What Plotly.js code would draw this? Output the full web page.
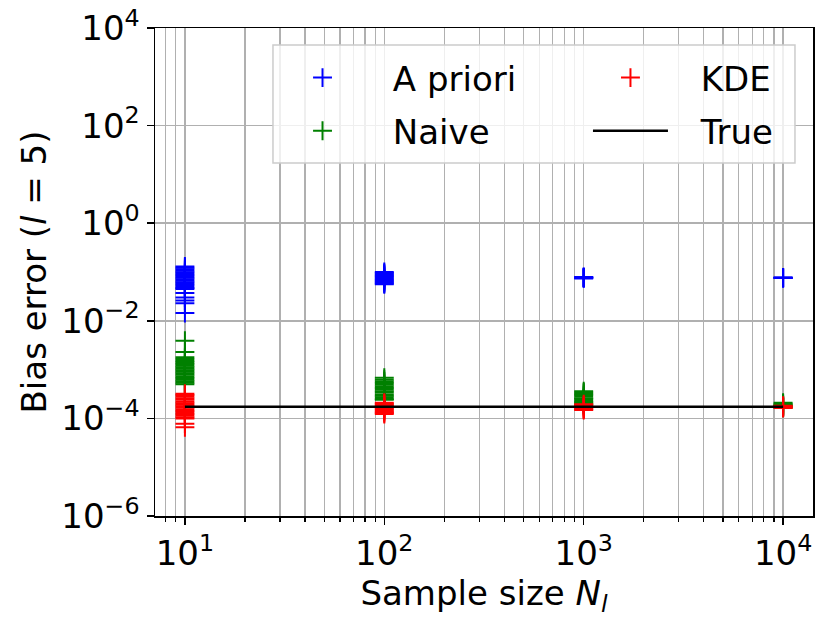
<!DOCTYPE html>
<html>
<head>
<meta charset="utf-8">
<script src="https://cdn.plot.ly/plotly-3.0.1.min.js"></script>
<style>
  html, body { margin: 0; padding: 0; background: #fff; }
  #chart { width: 830px; height: 626px; }
</style>
</head>
<body>
<div id="chart"></div>
<script>
// sample sizes N_l
const sampleSizes = [10, 100, 1000, 10000];

// bias error per sample size (one list of runs per N_l)
const aprioriBias = [
    [0.13, 0.122, 0.114, 0.106, 0.099, 0.093, 0.087, 0.081, 0.076, 0.071, 0.066, 0.062, 0.058, 0.054, 0.050, 0.047, 0.045, 0.037, 0.030, 0.026, 0.023, 0.0145],
    [0.100, 0.095, 0.090, 0.086, 0.082, 0.078, 0.074, 0.070, 0.067, 0.064, 0.061, 0.058, 0.056],
    [0.079, 0.078, 0.077, 0.076, 0.075, 0.074],
    [0.077, 0.0765, 0.076, 0.0755, 0.075]
];
const naiveBias = [
    [0.0039, 0.0023, 0.0018, 0.00165, 0.0015, 0.0014, 0.0013, 0.0012, 0.00112, 0.00104, 0.00097, 0.0009, 0.00084, 0.00078, 0.00072, 0.00067, 0.00062, 0.00058, 0.00054, 0.0005],
    [0.00068, 0.00062, 0.00057, 0.00053, 0.00049, 0.00045, 0.00042, 0.00039, 0.00036, 0.00034, 0.00031, 0.00029, 0.00027, 0.00025, 0.00024],
    [0.00036, 0.00034, 0.00032, 0.0003, 0.00028, 0.00026, 0.00025, 0.00023, 0.00022, 0.00021, 0.0002, 0.00019],
    [0.00021, 0.0002, 0.00019, 0.000185, 0.00018, 0.000175, 0.00017, 0.000165]
];
const kdeBias = [
    [0.00032, 0.0003, 0.00028, 0.00026, 0.00024, 0.00022, 0.000205, 0.00019, 0.000178, 0.000165, 0.000153, 0.000142, 0.000132, 0.000123, 0.000114, 0.000106, 0.000099, 0.000078, 0.000066],
    [0.00021, 0.0002, 0.00019, 0.00018, 0.00017, 0.00016, 0.000152, 0.000144, 0.000136, 0.000129, 0.000123],
    [0.000195, 0.000185, 0.000176, 0.000168, 0.00016, 0.000153, 0.000148],
    [0.000182, 0.000177, 0.000172, 0.000167, 0.000163]
];
// true bias
const trueBias = [1.74e-4, 1.74e-4, 1.74e-4, 1.74e-4];

// axis ticks
const xTickVals = [10, 100, 1000, 10000];
const xTickText = ['10<sup>1</sup>', '10<sup>2</sup>', '10<sup>3</sup>', '10<sup>4</sup>'];
const yTickVals = [1e-6, 1e-4, 1e-2, 1, 1e2, 1e4];
const yTickText = ['10<sup>\u22126</sup>', '10<sup>\u22124</sup>', '10<sup>\u22122</sup>', '10<sup>0</sup>', '10<sup>2</sup>', '10<sup>4</sup>'];

// gap between legend handle and label (spaces that svg keeps)
const labelPad = '\u2002\u00A0';

// flatten runs into x / y lists
function flatten(runs) {
    const x = [], y = [];
    runs.forEach((vals, i) => {
        vals.forEach(v => { x.push(sampleSizes[i]); y.push(v); });
    });
    return { x, y };
}

function crossTrace(runs, name, color, legendId) {
    const d = flatten(runs);
    return {
        x: d.x,
        y: d.y,
        type: 'scatter',
        mode: 'markers',
        name: labelPad + name,
        legend: legendId,
        legendgroup: name,
        hoverinfo: 'skip',
        marker: {
            symbol: 'cross-thin',
            size: 13.5,
            line: { color: color, width: 2 }
        }
    };
}

const gridColor = '#b0b0b0';
const font = { family: 'DejaVu Sans, sans-serif', size: 34, color: '#000' };

const traces = [
    crossTrace(aprioriBias, 'A priori', '#0000ff', 'legend'),
    crossTrace(naiveBias, 'Naive', '#008000', 'legend'),
    crossTrace(kdeBias, 'KDE', '#ff0000', 'legend2'),
    {
        x: sampleSizes,
        y: trueBias,
        type: 'scatter',
        mode: 'lines',
        name: labelPad + 'True',
        legend: 'legend2',
        legendgroup: 'True',
        hoverinfo: 'skip',
        line: { color: '#000', width: 2.5 }
    }
];

// shared look of the two legend columns
const legendBase = {
    orientation: 'v',
    xanchor: 'left',
    y: 0.957,
    yanchor: 'top',
    bgcolor: 'rgba(0,0,0,0)',
    borderwidth: 0,
    font: font,
    itemwidth: 75,
    tracegroupgap: 6,
    traceorder: 'grouped'
};

const layout = {
    width: 830,
    height: 626,
    paper_bgcolor: '#fff',
    plot_bgcolor: '#fff',
    font: font,
    margin: { l: 155, r: 17, t: 28, b: 110 },
    showlegend: true,
    xaxis: {
        type: 'log',
        range: [0.85, 4.15],
        tickmode: 'array',
        tickvals: xTickVals,
        ticktext: xTickText,
        ticks: 'outside',
        ticklen: 7,
        tickwidth: 1.5,
        tickcolor: '#000',
        tickfont: font,
        showline: true,
        mirror: true,
        linecolor: '#000',
        linewidth: 1.5,
        showgrid: true,
        gridcolor: gridColor,
        gridwidth: 1.5,
        zeroline: false,
        minor: {
            dtick: 'D1',
            ticks: 'outside',
            ticklen: 4,
            tickwidth: 1.2,
            tickcolor: '#000',
            showgrid: true,
            gridcolor: gridColor,
            gridwidth: 1.2
        },
        title: { text: 'Sample size <i>N</i><sub><i>l</i></sub>', font: font, standoff: 8 }
    },
    yaxis: {
        type: 'log',
        range: [-6, 4],
        tickmode: 'array',
        tickvals: yTickVals,
        ticktext: yTickText,
        ticks: 'outside',
        ticklen: 7,
        tickwidth: 1.5,
        tickcolor: '#000',
        tickfont: font,
        showline: true,
        mirror: true,
        linecolor: '#000',
        linewidth: 1.5,
        showgrid: true,
        gridcolor: gridColor,
        gridwidth: 1.5,
        zeroline: false,
        title: { text: 'Bias error (<i>l</i> = 5)', font: font, standoff: 4 }
    },
    legend: Object.assign({}, legendBase, { x: 0.190 }),
    legend2: Object.assign({}, legendBase, { x: 0.658 }),
    // legend frame behind both columns
    shapes: [{
        type: 'rect',
        xref: 'paper', yref: 'paper',
        x0: 0.1793, x1: 0.9726, y0: 0.7234, y1: 0.9652,
        fillcolor: 'rgba(255,255,255,0.8)',
        line: { color: '#cccccc', width: 1.5 },
        layer: 'above'
    }]
};

Plotly.newPlot('chart', traces, layout, { displayModeBar: false, staticPlot: true });
</script>
</body>
</html>
